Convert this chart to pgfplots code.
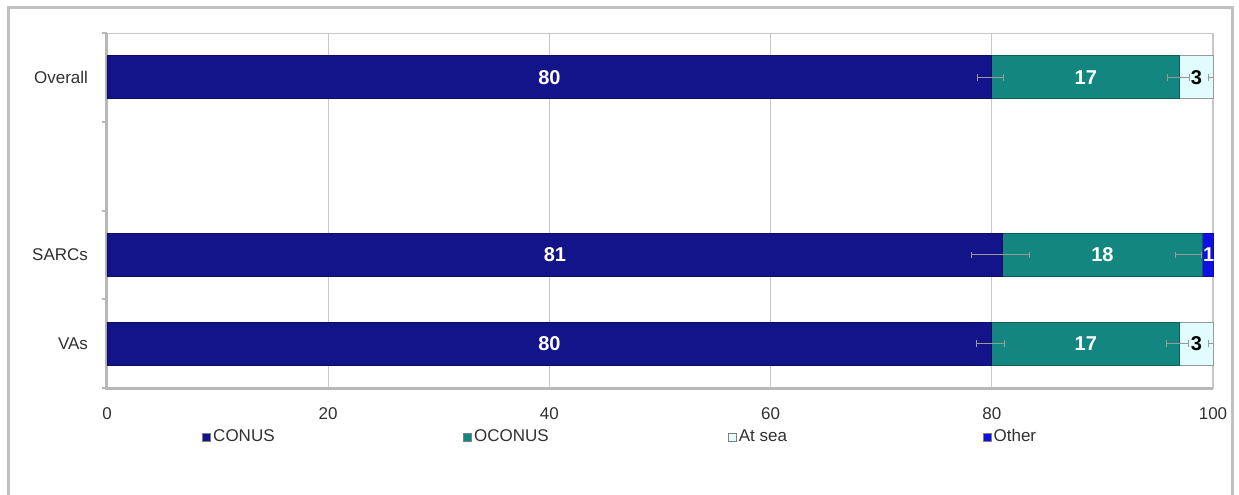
\documentclass[border=0pt]{standalone}
\usepackage{pgfplots}
\pgfplotsset{compat=1.18}
\usepackage{pgfplotstable}
\usepackage{fontspec}
\setmainfont{Liberation Sans}
\definecolor{conus}{HTML}{14148A}
\definecolor{oconus}{HTML}{13877F}
\definecolor{atsea}{HTML}{E0FCFC}
\definecolor{other}{HTML}{1010E6}
\definecolor{framegray}{HTML}{C0C0C0}
\definecolor{gridgray}{HTML}{C8C8C8}
\definecolor{axgray}{HTML}{B8B8B8}
\definecolor{txt}{HTML}{303030}

% y: 0 = VAs, 1 = SARCs, 3 = Overall
\pgfplotstableread{
y conus oconus atsea other
0 80 17 3 0
1 81 18 0 1
3 80 17 3 0
}\bars

\pgfplotstableread{
x y ex
79.9 0 1.25
96.8 0 1.0
99.8 0 0.25
80.8 1 2.6
97.8 1 1.2
79.9 3 1.15
96.9 3 1.0
99.8 3 0.25
}\errs

\pgfplotstableread{
x y lab
40 0 80
88.5 0 17
40.5 1 81
90 1 18
99.6 1 1
40 3 80
88.5 3 17
}\whitelabels

\pgfplotstableread{
x y lab
98.5 0 3
98.5 3 3
}\blacklabels

\begin{document}
\begin{tikzpicture}[x=1pt,y=1pt]
\useasboundingbox (0,0) rectangle (619.5,247);
\draw[framegray, line width=1.5pt] (4,-2) -- (4,243) -- (616,243) -- (616,-2);

\begin{axis}[
  at={(53.5pt,53pt)}, anchor=south west,
  scale only axis, width=553pt, height=177.5pt,
  xbar stacked, bar width=21.5pt,
  xmin=0, xmax=100, ymin=-0.5, ymax=3.5,
  xtick={0,20,...,100},
  ytick={0,1,3}, yticklabels={VAs,SARCs,Overall},
  minor ytick={-0.5,0.5,1.5,2.5,3.5},
  tick pos=left,
  major tick length=0pt,
  minor tick length=2.5pt,
  tick align=outside,
  minor tick style={axgray, line width=1pt},
  xmajorgrids, grid style={gridgray, line width=0.6pt},
  axis line style={gridgray, line width=0.5pt},
  /pgf/number format/assume math mode=true,
  tick label style={font=\fontsize{8.5}{10}\selectfont, text=txt},
  xticklabel style={yshift=-6.5pt},
  yticklabel style={xshift=-6pt},
  legend style={draw=none, fill=none, at={(axis description cs:0.0805,-0.138)}, anchor=west,
    legend columns=4, font=\fontsize{8.5}{10}\selectfont, text=txt,
    /tikz/every even column/.append style={column sep=0pt},
    nodes={inner sep=1pt}},
  legend image code/.code={\draw[#1, draw=gray, line width=0.4pt] (0pt,-2pt) rectangle (4pt,2pt);},
  clip=false,
]
\addplot[fill=conus, draw=conus!70!black, line width=0.4pt] table[x=conus, y=y] {\bars};
\addlegendentry{\makebox[124pt][l]{CONUS}}
\addplot[fill=oconus, draw=oconus!70!black, line width=0.4pt] table[x=oconus, y=y] {\bars};
\addlegendentry{\makebox[126pt][l]{OCONUS}}
\addplot[fill=atsea, draw=gray!80, line width=0.4pt] table[x=atsea, y=y] {\bars};
\addlegendentry{\makebox[121pt][l]{At sea}}
\addplot[fill=other, draw=other!70!black, line width=0.4pt] table[x=other, y=y] {\bars};
\addlegendentry{Other}
\draw[axgray, line width=1.5pt] (rel axis cs:0,1) -- (rel axis cs:0,0) -- (rel axis cs:1,0);
\end{axis}

\begin{axis}[
  at={(53.5pt,53pt)}, anchor=south west,
  scale only axis, width=553pt, height=177.5pt,
  xmin=0, xmax=100, ymin=-0.5, ymax=3.5,
  hide axis, clip=false,
]
\addplot[draw=none, mark=none,
  error bars/.cd, x dir=both, x explicit,
  error mark=|,
  error bar style={gray!80, line width=0.5pt},
  error mark options={gray!80, mark size=1.6pt, line width=0.5pt}]
  table[x=x, y=y, x error=ex] {\errs};
\addplot[draw=none, mark=none, nodes near coords, point meta=explicit symbolic,
  nodes near coords align={center},
  every node near coord/.append style={text=white, font=\fontsize{10}{12}\selectfont\bfseries}]
  table[x=x, y=y, meta=lab] {\whitelabels};
\addplot[draw=none, mark=none, nodes near coords, point meta=explicit symbolic,
  nodes near coords align={center},
  every node near coord/.append style={text=black, font=\fontsize{10}{12}\selectfont\bfseries}]
  table[x=x, y=y, meta=lab] {\blacklabels};
\end{axis}
\end{tikzpicture}
\end{document}
